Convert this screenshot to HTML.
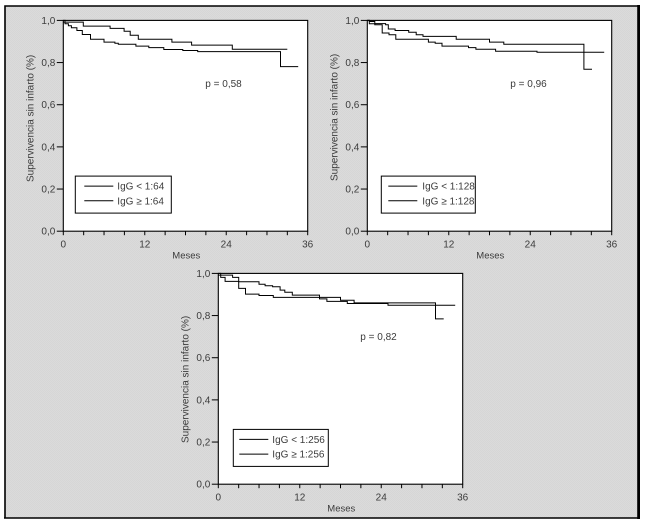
<!DOCTYPE html>
<html lang="es">
<head>
<meta charset="utf-8">
<title>Supervivencia sin infarto</title>
<style>
  html, body { margin: 0; padding: 0; background: #fff; }
  body { width: 645px; height: 522px; overflow: hidden; }
  svg { display: block; font-family: "Liberation Sans", sans-serif; }
  text { fill: #3c3c3c; font-size: 10px; }
</style>
</head>
<body>
<svg id="chart" xmlns="http://www.w3.org/2000/svg" width="645" height="522" viewBox="0 0 645 522">
  <defs>
    <pattern id="dither" width="2" height="2" patternUnits="userSpaceOnUse">
      <rect width="2" height="2" fill="#dbdbdb"/>
      <rect width="1" height="1" fill="#d6d6d6"/>
      <rect x="1" y="1" width="1" height="1" fill="#d6d6d6"/>
    </pattern>
  </defs>
  <rect x="5" y="6" width="633" height="512" fill="url(#dither)"/>
  <path d="M5 518V6H638" fill="none" stroke="#000" stroke-width="1.6"/>
  <path d="M4 518H640" fill="none" stroke="#000" stroke-width="1.6"/>
  <path d="M638.6 5V519" fill="none" stroke="#000" stroke-width="2.8"/>
  <g id="panels"></g>
</svg>
<script>
// Shared axis ticks
const xTickMonths = [0, 3, 6, 9, 12, 15, 18, 21, 24, 27, 30, 33, 36];
const xTickLabels = ["0", "12", "24", "36"];
const yTickValues = [0, 0.2, 0.4, 0.6, 0.8, 1.0];
const yTickLabels = ["0,0", "0,2", "0,4", "0,6", "0,8", "1,0"];

// Panel A: IgG 1:64
const lowMonthsA = [0, 2.95, 6.9, 8.95, 9.85, 11.05, 16, 18.9, 24.9, 33];
const lowSurvA = [0.992, 0.973, 0.962, 0.949, 0.93, 0.911, 0.897, 0.883, 0.863, 0.863];
const highMonthsA = [0, 0.25, 0.75, 1.2, 2, 2.8, 4, 6, 7.6, 8.1, 10.7, 12.6, 14.8, 17.6, 19.8, 32, 34.6];
const highSurvA = [1, 0.984, 0.975, 0.965, 0.952, 0.933, 0.911, 0.897, 0.892, 0.887, 0.878, 0.871, 0.862, 0.857, 0.852, 0.781, 0.781];

// Panel B: IgG 1:128
const lowMonthsB = [0, 0.3, 1.1, 2.7, 3.1, 4.1, 6.1, 7.2, 8.2, 13.1, 18, 20.1, 31.9, 33.1];
const lowSurvB = [1, 0.995, 0.985, 0.979, 0.959, 0.952, 0.944, 0.932, 0.924, 0.911, 0.897, 0.887, 0.768, 0.768];
const highMonthsB = [0, 0.3, 1.1, 2.2, 3.2, 4.2, 9, 10, 11, 14.9, 16, 18.9, 25, 34.9];
const highSurvB = [1, 0.984, 0.979, 0.94, 0.932, 0.911, 0.897, 0.892, 0.878, 0.871, 0.863, 0.854, 0.849, 0.849];

// Panel C: IgG 1:256
const lowMonthsC = [0, 2.1, 3, 6, 6.9, 8, 9.1, 9.8, 10.9, 14.9, 18, 20, 32, 33.2];
const lowSurvC = [0.992, 0.981, 0.96, 0.949, 0.941, 0.937, 0.921, 0.911, 0.897, 0.886, 0.873, 0.86, 0.784, 0.784];
const highMonthsC = [0, 0.35, 1, 3, 4, 6, 8.1, 14.9, 16, 19, 25, 34.9];
const highSurvC = [1, 0.981, 0.962, 0.929, 0.902, 0.895, 0.886, 0.879, 0.867, 0.857, 0.849, 0.849];

const NS = "http://www.w3.org/2000/svg";
const root = document.getElementById("panels");

function svgEl(parent, tag, attrs, content) {
  const el = document.createElementNS(NS, tag);
  for (const k in attrs) el.setAttribute(k, attrs[k]);
  if (content !== undefined) el.textContent = content;
  parent.appendChild(el);
  return el;
}

function stepPath(months, surv, xScale, yScale) {
  let d = "M" + xScale(months[0]).toFixed(1) + " " + yScale(surv[0]).toFixed(1);
  for (let i = 1; i < months.length; i++) {
    d += "H" + xScale(months[i]).toFixed(1) + "V" + yScale(surv[i]).toFixed(1);
  }
  return d;
}

function drawPanel(opts) {
  const left = opts.left, top = opts.top, w = 244.4, h = 210.8;
  const xScale = m => left + (m / 36) * w;
  const yScale = v => top + h - v * h;
  const g = svgEl(root, "g", {});
  
  

  const plot = svgEl(g, "rect", { x: left, y: top, width: w, height: h, fill: "#fff", stroke: "#000", "stroke-width": 1.1 });
  
  

  xTickMonths.forEach(m => {
    const x = xScale(m);
    const tick = svgEl(g, "line", { x1: x, x2: x, y1: top + h, y2: top + h + 4, stroke: "#000", "stroke-width": 1 });
    
    
  });
  xTickLabels.forEach(label => {
    const lab = svgEl(g, "text", { x: xScale(Number(label)), y: top + h + 16.5, "text-anchor": "middle" }, label);
    
    
  });
  yTickValues.forEach((v, i) => {
    const y = yScale(v);
    const tick = svgEl(g, "line", { x1: left - 6.5, x2: left, y1: y, y2: y, stroke: "#000", "stroke-width": 1 });
    
    
    const lab = svgEl(g, "text", { x: left - 8, y: y + 3.5, "text-anchor": "end" }, yTickLabels[i]);
    
    
  });

  const xTitle = svgEl(g, "text", { x: left + 123, y: top + h + 27.5, "text-anchor": "middle", style: "font-size:9.5px" }, "Meses");
  
  

  const yx = left - 30, yy = top + opts.titleDy;
  const yTitle = svgEl(g, "text", { x: yx, y: yy, "text-anchor": "middle", transform: "rotate(-90 " + yx + " " + yy + ")", style: "font-size:10px" }, "Supervivencia sin infarto (%)");
  
  

  const lowLine = svgEl(g, "path", { d: stepPath(opts.lowMonths, opts.lowSurv, xScale, yScale), fill: "none", stroke: "#000", "stroke-width": 1 });
  
  
  const highLine = svgEl(g, "path", { d: stepPath(opts.highMonths, opts.highSurv, xScale, yScale), fill: "none", stroke: "#000", "stroke-width": 1 });
  
  

  const pLabel = svgEl(g, "text", { x: left + opts.pDx, y: top + 66.5 }, opts.pText);
  
  

  const lx = left + opts.legendDx, ly = top + opts.legendDy;
  const box = svgEl(g, "rect", { x: lx, y: ly, width: opts.legendW, height: 37, fill: "#fff", stroke: "#000", "stroke-width": 1 });
  
  
  opts.legendLabels.forEach((label, i) => {
    const yRow = ly + 10 + i * 14.7;
    const sw = svgEl(g, "line", { x1: lx + opts.swatchDx, x2: lx + opts.swatchDx + 29, y1: yRow, y2: yRow, stroke: "#000", "stroke-width": 1 });
    
    
    const t = svgEl(g, "text", { x: lx + opts.textDx, y: yRow + 3.5 }, label);
    
    
  });
}

drawPanel({ left: 63.3, top: 20.4, titleDy: 98, lowMonths: lowMonthsA, lowSurv: lowSurvA, highMonths: highMonthsA, highSurv: highSurvA,
  pText: "p = 0,58", pDx: 142, legendDx: 12, legendDy: 155.7, legendW: 96, swatchDx: 9, textDx: 42,
  legendLabels: ["IgG < 1:64", "IgG ≥ 1:64"] });
drawPanel({ left: 367.3, top: 20.4, titleDy: 97, lowMonths: lowMonthsB, lowSurv: lowSurvB, highMonths: highMonthsB, highSurv: highSurvB,
  pText: "p = 0,96", pDx: 143, legendDx: 14, legendDy: 155.7, legendW: 94, swatchDx: 7, textDx: 41,
  legendLabels: ["IgG < 1:128", "IgG ≥ 1:128"] });
drawPanel({ left: 218.3, top: 273.4, titleDy: 106, lowMonths: lowMonthsC, lowSurv: lowSurvC, highMonths: highMonthsC, highSurv: highSurvC,
  pText: "p = 0,82", pDx: 142, legendDx: 15, legendDy: 156, legendW: 95, swatchDx: 6, textDx: 39,
  legendLabels: ["IgG < 1:256", "IgG ≥ 1:256"] });
</script>
</body>
</html>
